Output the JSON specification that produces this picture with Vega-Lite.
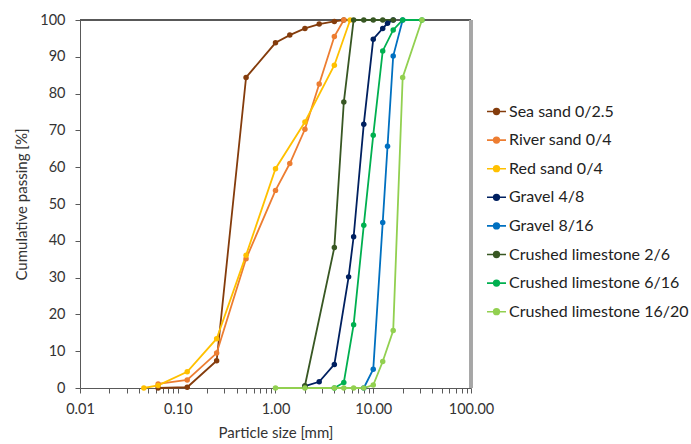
{
  "$schema": "https://vega.github.io/schema/vega-lite/v6.json",
  "autosize": "none",
  "width": 391,
  "height": 368,
  "padding": {"left": 80, "top": 20, "right": 220, "bottom": 56},
  "background": "white",
  "config": {
    "view": {"stroke": null},
    "font": "Lato",
    "axis": {
      "labelFont": "Lato",
      "titleFont": "Lato",
      "labelFontSize": 14.5,
      "titleFontSize": 15,
      "titleFontWeight": "normal",
      "labelColor": "#333333",
      "titleColor": "#333333",
      "domainColor": "#595959",
      "tickColor": "#595959",
      "grid": false
    }
  },
  "data": {
    "values": [
      {"material": "Sea sand 0/2.5", "size": 0.063, "passing": 0},
      {"material": "Sea sand 0/2.5", "size": 0.125, "passing": 0.2},
      {"material": "Sea sand 0/2.5", "size": 0.25, "passing": 7.4},
      {"material": "Sea sand 0/2.5", "size": 0.5, "passing": 84.4},
      {"material": "Sea sand 0/2.5", "size": 1, "passing": 93.8},
      {"material": "Sea sand 0/2.5", "size": 1.4, "passing": 95.9},
      {"material": "Sea sand 0/2.5", "size": 2, "passing": 97.7},
      {"material": "Sea sand 0/2.5", "size": 2.8, "passing": 98.9},
      {"material": "Sea sand 0/2.5", "size": 4, "passing": 99.6},
      {"material": "Sea sand 0/2.5", "size": 5, "passing": 100},

      {"material": "River sand 0/4", "size": 0.063, "passing": 1.1},
      {"material": "River sand 0/4", "size": 0.125, "passing": 2.2},
      {"material": "River sand 0/4", "size": 0.25, "passing": 9.5},
      {"material": "River sand 0/4", "size": 0.5, "passing": 35.1},
      {"material": "River sand 0/4", "size": 1, "passing": 53.7},
      {"material": "River sand 0/4", "size": 1.4, "passing": 61},
      {"material": "River sand 0/4", "size": 2, "passing": 70.3},
      {"material": "River sand 0/4", "size": 2.8, "passing": 82.6},
      {"material": "River sand 0/4", "size": 4, "passing": 95.5},
      {"material": "River sand 0/4", "size": 5, "passing": 100},

      {"material": "Red sand 0/4", "size": 0.045, "passing": 0},
      {"material": "Red sand 0/4", "size": 0.063, "passing": 0.7},
      {"material": "Red sand 0/4", "size": 0.125, "passing": 4.4},
      {"material": "Red sand 0/4", "size": 0.25, "passing": 13.4},
      {"material": "Red sand 0/4", "size": 0.5, "passing": 36.1},
      {"material": "Red sand 0/4", "size": 1, "passing": 59.6},
      {"material": "Red sand 0/4", "size": 2, "passing": 72.3},
      {"material": "Red sand 0/4", "size": 4, "passing": 87.7},
      {"material": "Red sand 0/4", "size": 5.8, "passing": 100},

      {"material": "Gravel 4/8", "size": 2, "passing": 0.5},
      {"material": "Gravel 4/8", "size": 2.8, "passing": 1.7},
      {"material": "Gravel 4/8", "size": 4, "passing": 6.4},
      {"material": "Gravel 4/8", "size": 5.6, "passing": 30.2},
      {"material": "Gravel 4/8", "size": 6.3, "passing": 41.1},
      {"material": "Gravel 4/8", "size": 8, "passing": 71.7},
      {"material": "Gravel 4/8", "size": 10, "passing": 94.8},
      {"material": "Gravel 4/8", "size": 12.5, "passing": 97.7},
      {"material": "Gravel 4/8", "size": 14, "passing": 99.1},
      {"material": "Gravel 4/8", "size": 16, "passing": 100},

      {"material": "Gravel 8/16", "size": 8, "passing": 0},
      {"material": "Gravel 8/16", "size": 10, "passing": 5.1},
      {"material": "Gravel 8/16", "size": 12.5, "passing": 45},
      {"material": "Gravel 8/16", "size": 14, "passing": 65.7},
      {"material": "Gravel 8/16", "size": 16, "passing": 90.2},
      {"material": "Gravel 8/16", "size": 20, "passing": 100},

      {"material": "Crushed limestone 2/6", "size": 2, "passing": 0.6},
      {"material": "Crushed limestone 2/6", "size": 4, "passing": 38.2},
      {"material": "Crushed limestone 2/6", "size": 5, "passing": 77.7},
      {"material": "Crushed limestone 2/6", "size": 6.3, "passing": 100},
      {"material": "Crushed limestone 2/6", "size": 8, "passing": 100},
      {"material": "Crushed limestone 2/6", "size": 10, "passing": 100},
      {"material": "Crushed limestone 2/6", "size": 12.5, "passing": 100},
      {"material": "Crushed limestone 2/6", "size": 16, "passing": 100},

      {"material": "Crushed limestone 6/16", "size": 4, "passing": 0},
      {"material": "Crushed limestone 6/16", "size": 5, "passing": 1.5},
      {"material": "Crushed limestone 6/16", "size": 6.3, "passing": 17.2},
      {"material": "Crushed limestone 6/16", "size": 8, "passing": 44.2},
      {"material": "Crushed limestone 6/16", "size": 10, "passing": 68.7},
      {"material": "Crushed limestone 6/16", "size": 12.5, "passing": 91.6},
      {"material": "Crushed limestone 6/16", "size": 16, "passing": 97.3},
      {"material": "Crushed limestone 6/16", "size": 20, "passing": 100},
      {"material": "Crushed limestone 6/16", "size": 31.5, "passing": 100},

      {"material": "Crushed limestone 16/20", "size": 1, "passing": 0},
      {"material": "Crushed limestone 16/20", "size": 2, "passing": 0},
      {"material": "Crushed limestone 16/20", "size": 4, "passing": 0},
      {"material": "Crushed limestone 16/20", "size": 5, "passing": 0},
      {"material": "Crushed limestone 16/20", "size": 6.3, "passing": 0},
      {"material": "Crushed limestone 16/20", "size": 8, "passing": 0},
      {"material": "Crushed limestone 16/20", "size": 10, "passing": 0.8},
      {"material": "Crushed limestone 16/20", "size": 12.5, "passing": 7.2},
      {"material": "Crushed limestone 16/20", "size": 16, "passing": 15.6},
      {"material": "Crushed limestone 16/20", "size": 20, "passing": 84.4},
      {"material": "Crushed limestone 16/20", "size": 31.5, "passing": 100}
    ]
  },
  "layer": [
    {
      "mark": {"type": "rule", "color": "#595959", "strokeWidth": 1.2},
      "encoding": {
        "y": {
          "datum": 100,
          "type": "quantitative",
          "scale": {"domain": [0, 100], "nice": false},
          "title": "Cumulative passing [%]",
          "axis": {
            "values": [0, 10, 20, 30, 40, 50, 60, 70, 80, 90, 100],
            "labelOverlap": false,
            "tickSize": 5,
            "labelPadding": 10,
            "titlePadding": 10
          }
        }
      }
    },
    {
      "mark": {"type": "rule", "color": "#A6A6A6", "strokeWidth": 2.5},
      "encoding": {
        "x": {
          "datum": 100,
          "type": "quantitative",
          "scale": {"type": "log", "domain": [0.01, 100], "nice": false},
          "title": "Particle size [mm]",
          "axis": {
            "values": [0.01, 0.02, 0.03, 0.04, 0.05, 0.06, 0.07, 0.08, 0.09,
                       0.1, 0.2, 0.3, 0.4, 0.5, 0.6, 0.7, 0.8, 0.9,
                       1, 2, 3, 4, 5, 6, 7, 8, 9,
                       10, 20, 30, 40, 50, 60, 70, 80, 90, 100],
            "labelExpr": "indexof([0.01, 0.1, 1, 10, 100], datum.value) >= 0 ? format(datum.value, '.2f') : ''",
            "labelOverlap": false,
            "labelBound": false,
            "labelFlush": false,
            "tickSize": 5,
            "labelPadding": 9,
            "titlePadding": 10
          }
        }
      }
    },
    {
      "mark": {"type": "line", "strokeWidth": 1.8, "point": {"filled": true, "size": 30, "opacity": 1}},
      "encoding": {
        "x": {
          "field": "size",
          "type": "quantitative",
          "scale": {"type": "log", "domain": [0.01, 100], "nice": false},
          "title": "Particle size [mm]",
          "axis": {
            "values": [0.01, 0.02, 0.03, 0.04, 0.05, 0.06, 0.07, 0.08, 0.09,
                       0.1, 0.2, 0.3, 0.4, 0.5, 0.6, 0.7, 0.8, 0.9,
                       1, 2, 3, 4, 5, 6, 7, 8, 9,
                       10, 20, 30, 40, 50, 60, 70, 80, 90, 100],
            "labelExpr": "indexof([0.01, 0.1, 1, 10, 100], datum.value) >= 0 ? format(datum.value, '.2f') : ''",
            "labelOverlap": false,
            "labelBound": false,
            "labelFlush": false,
            "tickSize": 5,
            "labelPadding": 9,
            "titlePadding": 10
          }
        },
        "y": {
          "field": "passing",
          "type": "quantitative",
          "scale": {"domain": [0, 100], "nice": false},
          "title": "Cumulative passing [%]",
          "axis": {
            "values": [0, 10, 20, 30, 40, 50, 60, 70, 80, 90, 100],
            "labelOverlap": false,
            "tickSize": 5,
            "labelPadding": 10,
            "titlePadding": 10
          }
        },
        "color": {
          "field": "material",
          "type": "nominal",
          "sort": null,
          "scale": {
            "domain": ["Sea sand 0/2.5", "River sand 0/4", "Red sand 0/4", "Gravel 4/8", "Gravel 8/16", "Crushed limestone 2/6", "Crushed limestone 6/16", "Crushed limestone 16/20"],
            "range": ["#843C0C", "#ED7D31", "#FFC000", "#002060", "#0070C0", "#385723", "#00B050", "#92D050"]
          },
          "legend": {
            "title": null,
            "orient": "none",
            "legendX": 406,
            "legendY": 81,
            "padding": 0,
            "symbolType": "M-1,0H1M0.3,0A0.3,0.3,0,1,1,-0.3,0A0.3,0.3,0,1,1,0.3,0Z",
            "symbolSize": 361,
            "symbolStrokeWidth": 1.6,
            "labelFont": "Lato",
            "labelFontSize": 16,
            "labelColor": "#222222",
            "labelLimit": 400,
            "labelOffset": 2,
            "rowPadding": 9.6,
            "encode": {
              "symbols": {
                "update": {
                  "fill": {"scale": "color", "field": "value"},
                  "stroke": {"scale": "color", "field": "value"},
                  "opacity": {"value": 1}
                }
              }
            }
          }
        }
      }
    }
  ]
}
